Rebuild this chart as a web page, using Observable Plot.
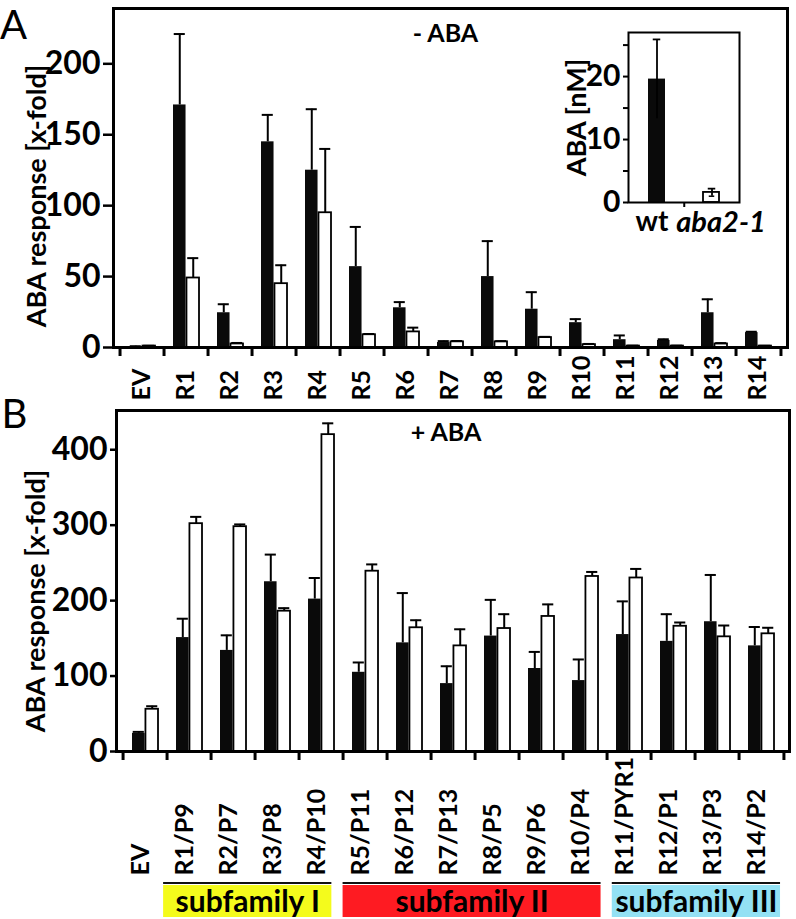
<!DOCTYPE html>
<html><head><meta charset="utf-8">
<script src="https://cdn.jsdelivr.net/npm/d3@7"></script>
<script src="https://cdn.jsdelivr.net/npm/@observablehq/plot@0.6"></script>
<style>
body{margin:0;background:#fff;}
#root{position:relative;width:796px;height:919px;overflow:hidden;background:#fff;}
#root svg{position:absolute;}
</style></head><body><div id="root"></div>
<script>
// ---------- Panel A (- ABA) ----------
const catsA = ["EV","R1","R2","R3","R4","R5","R6","R7","R8","R9","R10","R11","R12","R13","R14"];
const aBlack    = [0.6, 171, 24.5, 145, 125, 57, 28, 3.5, 50, 27, 17.5, 5.5, 5, 24.5, 10.5];
const aBlackErr = [0.3, 50, 6, 19, 43, 28, 4, 1, 25, 12, 2.5, 3, 0.8, 9.5, 0.6];
const aWhite    = [1.0, 49, 2.5, 45, 95, 9, 11, 4, 4, 7, 2, 1, 1, 2.5, 1];
const aWhiteErr = [0.2, 14, 0.7, 13, 45, 0.5, 3, 0.6, 0.5, 0.5, 0.5, 0.3, 0.3, 0.6, 0.2];
const aTicks = [0, 50, 100, 150, 200];

// ---------- Inset (ABA content) ----------
const insetCats = ["wt", "aba2-1"];
const insetVals = [19.6, 1.6];
const insetErr  = [6.3, 0.6];
const insetTicks = [0, 5, 10, 15, 20, 25];
const insetTickLabels = [0, 10, 20];

// ---------- Panel B (+ ABA) ----------
const catsB = ["EV","R1/P9","R2/P7","R3/P8","R4/P10","R5/P11","R6/P12","R7/P13","R8/P5","R9/P6","R10/P4","R11/PYR1","R12/P1","R13/P3","R14/P2"];
const bBlack    = [24, 151, 134, 225, 202, 105, 144, 90, 153, 110, 94, 155, 146, 172, 140];
const bBlackErr = [2, 25, 20, 36, 28, 13, 66, 23, 48, 22, 28, 44, 36, 62, 25];
const bWhite    = [56, 302, 298, 186, 420, 239, 164, 140, 163, 179, 232, 230, 166, 152, 156];
const bWhiteErr = [4, 9, 3, 4, 15, 9, 10, 22, 19, 16, 6, 12, 5, 15, 8];
const bTicks = [0, 100, 200, 300, 400];

// ---------- Subfamilies ----------
const subNames = ["subfamily I", "subfamily II", "subfamily III"];
const subFirst = ["R1/P9", "R5/P11", "R11/PYR1"];
const subLast  = ["R4/P10", "R10/P4", "R14/P2"];
const subColors = ["#f4fb1c", "#fe1b22", "#93e1f4"];

const FONT = "Lato, 'Open Sans', sans-serif";
const root = document.getElementById("root");
function place(el, left, top) { el.style.left = left + "px"; el.style.top = top + "px"; root.appendChild(el); }

function barPanel({cats, black, blackErr, white, whiteErr, ticks, yMax, W, H, ml, mr, mt, mb,
                   tickLen, yTickSize, labelDy, labelDx, ylabDx, ylabDy, title, titleDx, titleDy,
                   letter, letterDx, letterDy}) {
  const rows = cats.map((c, i) => ({cat: c, black: black[i], blackErr: blackErr[i], white: white[i], whiteErr: whiteErr[i]}));
  const bw = (W - ml - mr) / cats.length;
  const inL = 9, inR = 9;
  const offB = (bw / 2 - inL) / 2, offW = (bw / 2 - inR) / 2;
  const cap = 6;
  const yPerPx = yMax / (H - mt - mb);
  return Plot.plot({
    width: W, height: H, marginLeft: ml, marginRight: mr, marginTop: mt, marginBottom: mb,
    style: {fontFamily: FONT, background: "none", overflow: "visible", color: "#000"},
    x: {type: "band", domain: cats, padding: 0, axis: null},
    y: {domain: [0, yMax], axis: null},
    marks: [
      Plot.barY(rows, {x: "cat", y1: 0, y2: "black", fill: "#0a0a0a", insetLeft: inL, insetRight: bw / 2}),
      Plot.barY(rows, {x: "cat", y1: 0, y2: "white", fill: "#fff", stroke: "#000", strokeWidth: 1.8, insetLeft: bw / 2, insetRight: inR}),
      Plot.ruleX(rows, {x: "cat", y1: "black", y2: d => d.black + d.blackErr, dx: -offB, strokeWidth: 2}),
      Plot.tickY(rows, {x: "cat", y: d => d.black + d.blackErr, dx: -offB, insetLeft: bw / 2 - cap, insetRight: bw / 2 - cap, strokeWidth: 2}),
      Plot.ruleX(rows, {x: "cat", y1: "white", y2: d => d.white + d.whiteErr, dx: offW, strokeWidth: 2}),
      Plot.tickY(rows, {x: "cat", y: d => d.white + d.whiteErr, dx: offW, insetLeft: bw / 2 - cap, insetRight: bw / 2 - cap, strokeWidth: 2}),
      // category boundary ticks below the axis
      Plot.ruleX(cats, {x: d => d, dx: -bw / 2, y1: 0, y2: -tickLen * yPerPx, strokeWidth: 3}),
      Plot.ruleX(cats.slice(-1), {x: d => d, dx: bw / 2, y1: 0, y2: -tickLen * yPerPx, strokeWidth: 3}),
      Plot.frame({strokeWidth: 3}),
      Plot.axisY({ticks, tickSize: yTickSize, strokeWidth: 2.5, tickFormat: () => "", label: null}),
      Plot.text(ticks, {y: d => d, text: d => String(d), frameAnchor: "left", dx: -(yTickSize + 3), textAnchor: "end", lineAnchor: "middle", fontSize: 32, fontWeight: "bold"}),
      Plot.text(rows, {x: "cat", text: "cat", frameAnchor: "bottom", dy: labelDy, dx: labelDx, rotate: -90, textAnchor: "start", lineAnchor: "middle", fontSize: 25, fontWeight: "bold"}),
      Plot.text(["ABA response [x-fold]"], {text: d => d, frameAnchor: "left", dx: ylabDx, dy: ylabDy, rotate: -90, textAnchor: "middle", lineAnchor: "middle", fontSize: 27, fontWeight: "bold"}),
      Plot.text([title], {text: d => d, frameAnchor: "top", dx: titleDx, dy: titleDy, textAnchor: "middle", lineAnchor: "middle", fontSize: 25, fontWeight: "bold"}),
      Plot.text([letter], {text: d => d, frameAnchor: "top-left", dx: letterDx, dy: letterDy, textAnchor: "middle", lineAnchor: "middle", fontSize: 40, fontWeight: "normal"})
    ]
  });
}

// Panel A
place(barPanel({cats: catsA, black: aBlack, blackErr: aBlackErr, white: aWhite, whiteErr: aWhiteErr,
  ticks: aTicks, yMax: 239, W: 796, H: 405, ml: 113, mr: 9, mt: 8, mb: 58,
  tickLen: 9, yTickSize: 10, labelDy: 53, labelDx: -1, ylabDx: -76, ylabDy: 18,
  title: "- ABA", titleDx: -5, titleDy: 25, letter: "A", letterDx: -100, letterDy: 18}), 0, 0);

// Panel B
place(barPanel({cats: catsB, black: bBlack, blackErr: bBlackErr, white: bWhite, whiteErr: bWhiteErr,
  ticks: bTicks, yMax: 452, W: 796, H: 519, ml: 116, mr: 7, mt: 10, mb: 168,
  tickLen: 9, yTickSize: 6, labelDy: 124, labelDx: -5, ylabDx: -80, ylabDy: 20,
  title: "+ ABA", titleDx: -7, titleDy: 22, letter: "B", letterDx: -102, letterDy: 5}), 0, 400);

// Inset
(function () {
  const rows = insetCats.map((c, i) => ({cat: c, v: insetVals[i], e: insetErr[i]}));
  const W = 220, H = 245, ml = 80, mr = 29, mt = 32, mb = 43;
  const yMax = 27;
  const bw = (W - ml - mr) / insetCats.length;
  const yPerPx = yMax / (H - mt - mb);
  const el = Plot.plot({
    width: W, height: H, marginLeft: ml, marginRight: mr, marginTop: mt, marginBottom: mb,
    style: {fontFamily: FONT, background: "none", overflow: "visible", color: "#000"},
    x: {type: "band", domain: insetCats, padding: 0, axis: null},
    y: {domain: [0, yMax], axis: null},
    marks: [
      Plot.barY(rows.slice(0, 1), {x: "cat", y1: 0, y2: "v", fill: "#0a0a0a", insetLeft: 19, insetRight: 19}),
      Plot.barY(rows.slice(1), {x: "cat", y1: 0, y2: "v", fill: "#fff", stroke: "#000", strokeWidth: 1.8, insetLeft: 19, insetRight: 20}),
      Plot.ruleX(rows, {x: "cat", y1: d => d.v - d.e, y2: d => d.v + d.e, strokeWidth: 1.8}),
      Plot.tickY(rows, {x: "cat", y: d => d.v + d.e, insetLeft: bw / 2 - 4, insetRight: bw / 2 - 4, strokeWidth: 1.8}),
      Plot.tickY(rows.slice(1), {x: "cat", y: d => d.v - d.e, insetLeft: bw / 2 - 3, insetRight: bw / 2 - 3, strokeWidth: 1.5}),
      Plot.ruleX(insetCats.slice(1), {x: d => d, dx: -bw / 2, y1: 0, y2: -5 * yPerPx, strokeWidth: 2}),
      Plot.frame({strokeWidth: 2}),
      Plot.axisY({ticks: insetTicks, tickSize: 5, strokeWidth: 2, tickFormat: () => "", label: null}),
      Plot.text(insetTickLabels, {y: d => d, text: d => String(d), frameAnchor: "left", dx: -8, textAnchor: "end", lineAnchor: "middle", fontSize: 30, fontWeight: "bold"}),
      Plot.text(rows.slice(0, 1), {x: "cat", text: "cat", frameAnchor: "bottom", dy: 20, dx: -5, textAnchor: "middle", lineAnchor: "middle", fontSize: 28, fontWeight: "bold"}),
      Plot.text(rows.slice(1), {x: "cat", text: "cat", frameAnchor: "bottom", dy: 20, dx: 9, textAnchor: "middle", lineAnchor: "middle", fontSize: 29, fontWeight: "bold", fontStyle: "italic"}),
      Plot.text(["ABA [nM]"], {text: d => d, frameAnchor: "left", dx: -51, rotate: -90, textAnchor: "middle", lineAnchor: "middle", fontSize: 27, fontWeight: "bold"})
    ]
  });
  place(el, 548, 0);
})();

// Subfamily boxes
(function () {
  const idx = c => catsB.indexOf(c);
  const rows = subNames.map((n, i) => ({name: n, x1: idx(subFirst[i]) - 0.45, x2: idx(subLast[i]) + 0.3}));
  const el = Plot.plot({
    width: 796, height: 38, marginLeft: 116, marginRight: 7, marginTop: 0, marginBottom: 0,
    style: {fontFamily: FONT, background: "none", overflow: "visible", color: "#000"},
    x: {domain: [-0.5, catsB.length - 0.5], axis: null},
    color: {domain: subNames, range: subColors},
    marks: [
      Plot.rect(rows, {x1: "x1", x2: "x2", fill: "name", insetTop: 4, insetBottom: 2}),
      Plot.rect(rows, {x1: "x1", x2: "x2", fill: "#111", insetTop: 1, insetBottom: 35}),
      Plot.text(rows, {x: d => (d.x1 + d.x2) / 2, text: "name", frameAnchor: "middle", dy: 2, textAnchor: "middle", lineAnchor: "middle", fontSize: 30, fontWeight: "bold"})
    ]
  });
  place(el, 0, 881);
})();
</script>
</body></html>
